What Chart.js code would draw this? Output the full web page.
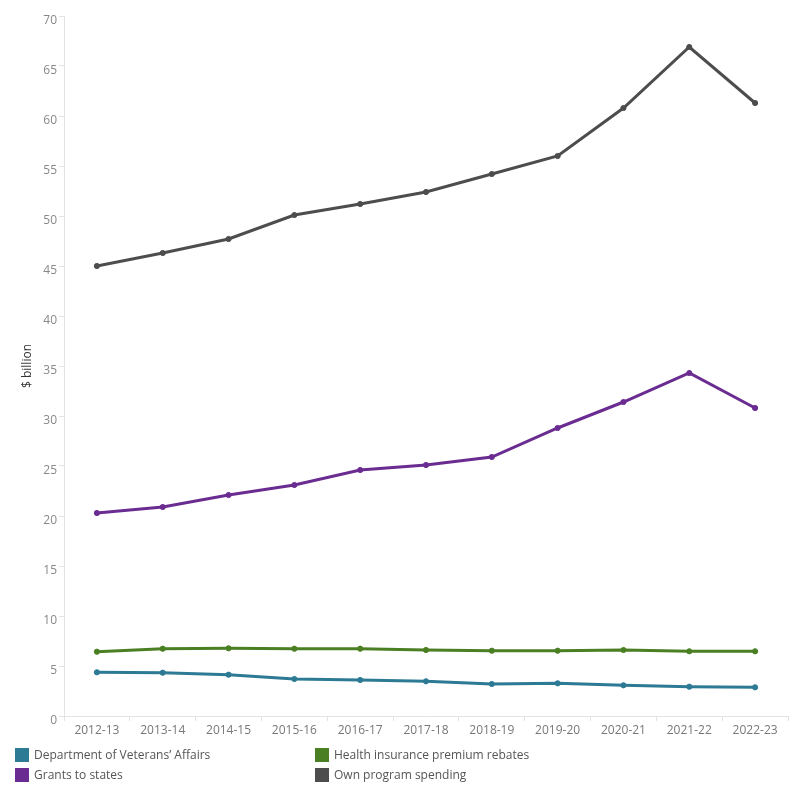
<!DOCTYPE html>
<html><head><meta charset="utf-8">
<script src="https://cdn.jsdelivr.net/npm/chart.js@4"></script>
<style>
html,body{margin:0;padding:0;background:#fff;}
#wrap{position:relative;width:800px;height:800px;}
#legend{position:absolute;left:15px;top:746px;width:780px;font-family:"Open Sans",sans-serif;font-size:12px;color:#555;}
.li{position:absolute;display:flex;align-items:center;white-space:nowrap;}
.sw{width:14px;height:14px;margin-right:5px;}
</style></head>
<body>
<div id="wrap"><canvas id="c" width="800" height="800"></canvas><div id="legend"></div></div>
<script>
const categories = ["2012-13","2013-14","2014-15","2015-16","2016-17","2017-18","2018-19","2019-20","2020-21","2021-22","2022-23"];
const dva = [4.37,4.33,4.13,3.70,3.60,3.47,3.20,3.27,3.07,2.93,2.87];
const health = [6.43,6.73,6.77,6.73,6.73,6.60,6.53,6.53,6.60,6.47,6.47];
const grants = [20.3,20.9,22.1,23.1,24.6,25.1,25.9,28.8,31.4,34.3,30.8];
const own = [45.0,46.3,47.7,50.1,51.2,52.4,54.2,56.0,60.8,66.9,61.3];
const seriesNames = ["Department of Veterans\u2019 Affairs","Health insurance premium rebates","Grants to states","Own program spending"];
const colors = ["#2d7a95","#4b7f23","#6a2c91","#4d4d4d"];
const yTicks = [0,5,10,15,20,25,30,35,40,45,50,55,60,65,70];

const FONT = '"Open Sans", sans-serif';
const data = [dva, health, grants, own];
const datasets = data.map((d,i)=>({
  label: seriesNames[i], data: d, borderColor: colors[i], backgroundColor: colors[i],
  borderWidth: 3, pointRadius: 2.6, pointHoverRadius: 2.6, pointBorderWidth: 1, tension: 0, fill: false
}));

new Chart(document.getElementById('c'), {
  type: 'line',
  data: { labels: categories, datasets },
  options: {
    responsive: false, animation: false,
    layout: { padding: { left: 0, right: 12, top: 16, bottom: 60 } },
    plugins: { legend: { display: false }, tooltip: { enabled: false } },
    scales: {
      x: {
        offset: true,
        grid: { offset: true, drawOnChartArea: false, tickLength: 5, color: '#e3e3e3' },
        border: { color: '#e3e3e3' },
        ticks: { color: '#777', font: { family: FONT, size: 12 }, padding: 2, maxRotation: 0 },
        afterFit: s => { s.height = 24; }
      },
      y: {
        min: 0, max: 70,
        afterBuildTicks: s => { s.ticks = yTicks.map(v=>({value:v})); },
        grid: { drawOnChartArea: false, tickLength: 5, color: '#e3e3e3' },
        border: { color: '#e3e3e3' },
        ticks: { color: '#888', font: { family: FONT, size: 12 }, padding: 2, labelOffset: 5 },
        title: { display: true, text: '$ billion', color: '#333', font: { family: FONT, size: 12 }, padding: { top: 20, bottom: 0 } },
        afterFit: s => { s.width = 64; }
      }
    }
  }
});

const leg = document.getElementById('legend');
const pos = [[0,0],[300,0],[0,20],[300,20]];
seriesNames.forEach((n,i)=>{
  const d = document.createElement('div'); d.className='li';
  d.style.left = pos[i][0]+'px'; d.style.top = pos[i][1]+'px';
  d.innerHTML = '<div class="sw" style="background:'+colors[i]+'"></div><span>'+n+'</span>';
  leg.appendChild(d);
});
</script>
</body></html>
